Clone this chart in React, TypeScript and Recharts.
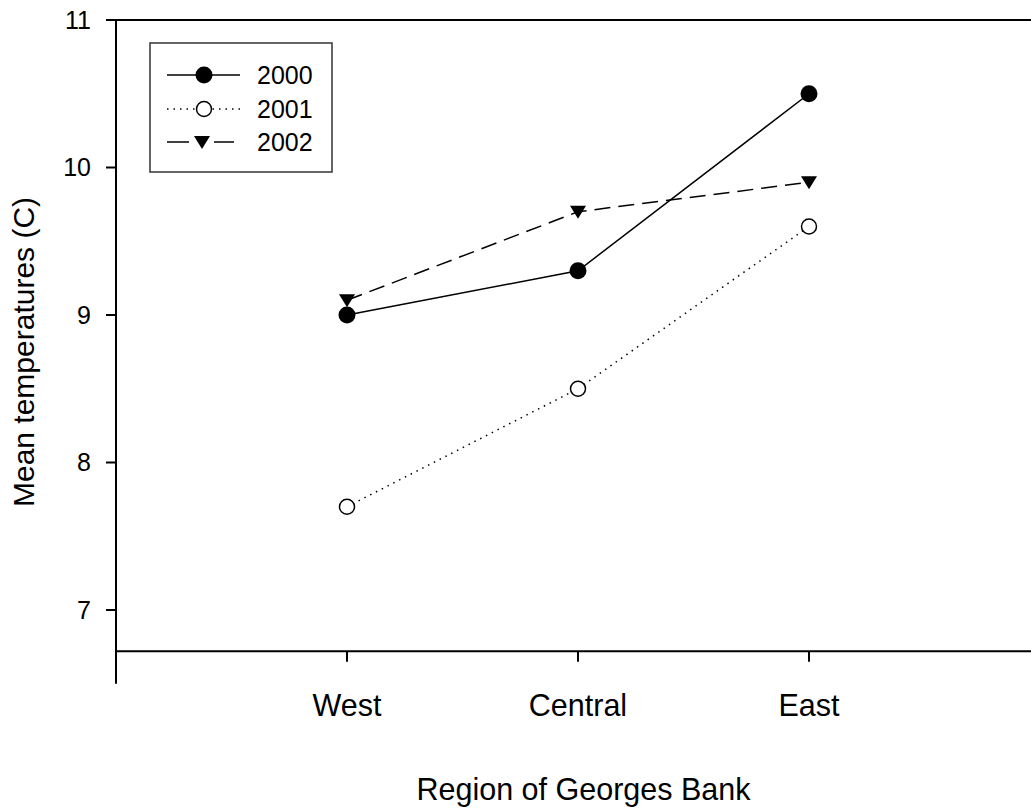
import { LineChart, Line, XAxis, YAxis, ReferenceLine, Legend, Label } from 'recharts';

const regions = ['West', 'Central', 'East'];
const years = ['2000', '2001', '2002'];
const temp2000 = [9.0, 9.3, 10.5];
const temp2001 = [7.7, 8.5, 9.6];
const temp2002 = [9.1, 9.7, 9.9];
const yTicks = [7, 8, 9, 10, 11];
const xTicks = [1, 2, 3];

const data = regions.map((region, i) => ({
  pos: i + 1,
  region,
  y2000: temp2000[i],
  y2001: temp2001[i],
  y2002: temp2002[i],
}));

const FONT = '"Liberation Sans", Arial, Helvetica, sans-serif';
// the x axis line sits a bit above the bottom of the y range, as in the original
const X_AXIS_AT = 6.72;

const Triangle = ({ cx, cy }: { cx?: number; cy?: number }) => {
  if (cx == null || cy == null) return null;
  return <path d={`M${cx - 8},${cy - 6} L${cx + 8},${cy - 6} L${cx},${cy + 7} Z`} fill="#000" />;
};

const RegionTick = ({ x, y, payload }: { x?: number; y?: number; payload?: { value: number } }) => {
  if (x == null || y == null || !payload) return null;
  return (
    <g>
      <line x1={x} x2={x} y1={y - 32} y2={y - 22} stroke="#000" strokeWidth={2} />
      <text x={x} y={y + 32} textAnchor="middle" fontSize={30.5} fill="#000" fontFamily={FONT}>
        {regions[payload.value - 1]}
      </text>
    </g>
  );
};

const LegendBox = () => {
  const rows = [33, 67, 100];
  return (
    <svg width={184} height={131} style={{ display: 'block' }}>
      <rect x={1} y={1} width={182} height={129} fill="#fff" stroke="#333" strokeWidth={1.5} />
      <line x1={18} x2={91} y1={rows[0]} y2={rows[0]} stroke="#000" strokeWidth={1.5} />
      <circle cx={55} cy={rows[0]} r={8.5} fill="#000" />
      <line x1={18} x2={91} y1={rows[1]} y2={rows[1]} stroke="#000" strokeWidth={1.5} strokeDasharray="1.5 5" />
      <circle cx={55} cy={rows[1]} r={7.5} fill="#fff" stroke="#000" strokeWidth={1.5} />
      <line x1={18} x2={40} y1={rows[2]} y2={rows[2]} stroke="#000" strokeWidth={1.5} />
      <line x1={65} x2={85} y1={rows[2]} y2={rows[2]} stroke="#000" strokeWidth={1.5} />
      <Triangle cx={53} cy={rows[2]} />
      {years.map((yr, i) => (
        <text key={yr} x={108} y={rows[i] + 9} fontSize={25} fill="#000" fontFamily={FONT}>
          {yr}
        </text>
      ))}
    </svg>
  );
};

export default function App() {
  return (
    <div
      style={{
        position: 'absolute',
        left: 0,
        top: 0,
        width: 1031,
        height: 809,
        overflow: 'hidden',
        background: '#fff',
        fontFamily: FONT,
      }}
    >
      <LineChart width={1045} height={809} data={data} margin={{ top: 20, right: 5, bottom: 0, left: 0 }}>
        <XAxis
          dataKey="pos"
          type="number"
          domain={[0, 4]}
          ticks={xTicks}
          axisLine={false}
          tickLine={false}
          tickSize={0}
          tickMargin={0}
          height={125.25}
          tick={<RegionTick />}
        >
          <Label
            content={() => (
              <text x={583.5} y={800} textAnchor="middle" fontSize={30.5} fill="#000" fontFamily={FONT}>
                Region of Georges Bank
              </text>
            )}
          />
        </XAxis>
        <YAxis
          type="number"
          domain={[6.5, 11]}
          ticks={yTicks}
          width={116}
          tickSize={10}
          tickMargin={15}
          axisLine={{ stroke: '#000', strokeWidth: 2 }}
          tickLine={{ stroke: '#000', strokeWidth: 2 }}
          tick={{ fill: '#000', fontSize: 25, fontFamily: FONT }}
        >
          <Label
            content={() => (
              <text
                x={34}
                y={352}
                transform="rotate(-90 34 352)"
                textAnchor="middle"
                fontSize={30}
                fill="#000"
                fontFamily={FONT}
              >
                Mean temperatures (C)
              </text>
            )}
          />
        </YAxis>
        <ReferenceLine y={11} stroke="#000" strokeWidth={2} />
        <ReferenceLine y={X_AXIS_AT} stroke="#000" strokeWidth={2} />
        <Legend
          layout="horizontal"
          verticalAlign="middle"
          align="center"
          wrapperStyle={{ left: 149, top: 42, width: 184, height: 131 }}
          content={<LegendBox />}
        />
        <Line
          dataKey="y2002"
          name="2002"
          type="linear"
          stroke="#000"
          strokeWidth={1.5}
          strokeDasharray="16 8"
          dot={<Triangle />}
          isAnimationActive={false}
        />
        <Line
          dataKey="y2001"
          name="2001"
          type="linear"
          stroke="#000"
          strokeWidth={1.5}
          strokeDasharray="1.5 5"
          dot={{ r: 7.5, fill: '#fff', stroke: '#000', strokeWidth: 1.5, strokeDasharray: '' }}
          isAnimationActive={false}
        />
        <Line
          dataKey="y2000"
          name="2000"
          type="linear"
          stroke="#000"
          strokeWidth={1.5}
          dot={{ r: 8.5, fill: '#000', stroke: '#000', strokeWidth: 0 }}
          isAnimationActive={false}
        />
      </LineChart>
    </div>
  );
}
